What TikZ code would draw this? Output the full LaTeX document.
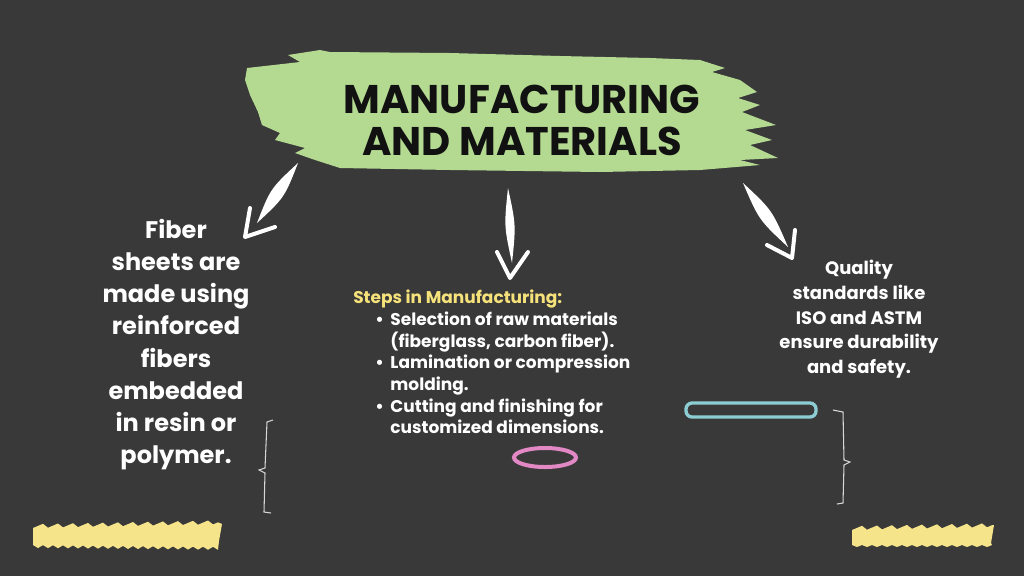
\documentclass[tikz,border=0pt]{standalone}
\usepackage{fontspec}
\setmainfont{Poppins}
\usetikzlibrary{calc}
\definecolor{board}{RGB}{57,57,57}
\definecolor{brushgreen}{RGB}{180,217,145}
\definecolor{titleink}{RGB}{17,17,17}
\definecolor{chalkyellow}{RGB}{245,228,138}
\definecolor{headyellow}{RGB}{246,226,122}
\definecolor{chalkblue}{RGB}{140,205,212}
\definecolor{chalkpink}{RGB}{226,136,196}
\definecolor{chalkgray}{RGB}{215,215,215}
\tikzset{
  chalktext/.style={text=white, inner sep=0pt, font=\bfseries},
  shaft/.style={fill=white},
  arrowhead/.style={draw=white, line width=3pt, line cap=round, line join=round},
  bracketline/.style={draw=chalkgray, line width=0.8pt},
}
\begin{document}
\begin{tikzpicture}[x=0.75pt,y=-0.75pt]
\fill[board] (0,0) rectangle (1024,576);
\useasboundingbox (0,0) rectangle (1024,576);

% green brush stroke behind the title
\fill[brushgreen] (247,68) -- (300,62) -- (288,55) -- (320,50) -- (330,52) -- (450,53) -- (560,56) -- (650,58)
  -- (700,60) -- (725,68) -- (712,72) -- (740,80) -- (757,92) -- (738,98) -- (760,105) -- (742,112)
  -- (776,125) -- (745,130) -- (772,140) -- (750,145) -- (778,158) -- (740,160) -- (760,165)
  -- (700,170) -- (600,172) -- (450,170) -- (340,168) -- (315,160) -- (295,153) -- (305,148)
  -- (275,140) -- (280,133) -- (262,125) -- (258,112) -- (250,95) -- (245,80) -- cycle;

\node[anchor=north, align=center, inner sep=0pt, text=titleink,
      font=\fontsize{30}{31.5}\selectfont\bfseries] (title) at (522,85)
      {MANUFACTURING\\AND MATERIALS};

% left arrow
\coordinate (lt) at (298,163); \coordinate (le) at (257,223);
\fill[shaft] (lt) .. controls (284.5,197.5) .. (le) .. controls (270.5,188.5) .. (lt);
\coordinate (lh) at (245,237);
\draw[arrowhead] (250,208) -- (lh) -- (275,227);

% middle arrow
\coordinate (mt) at (508,188); \coordinate (me) at (512,263);
\fill[shaft] (mt) .. controls (516,225) .. (me) .. controls (504,226) .. (mt);
\coordinate (mh) at (510,278);
\draw[arrowhead] (497,252) -- (mh) -- (528,252);

% right arrow
\coordinate (rt) at (743,183); \coordinate (re) at (788,247);
\fill[shaft] (rt) .. controls (772,210) .. (re) .. controls (759,220) .. (rt);
\coordinate (rh) at (792,258);
\draw[arrowhead] (767,245) -- (rh) -- (795,230);

% left text
\node[chalktext, anchor=north, align=center, font=\fontsize{18}{24.1}\selectfont\bfseries] (lefttext) at (176,219)
  {Fiber\\sheets are\\made using\\reinforced\\fibers\\embedded\\in resin or\\polymer.};

% middle text
\node[chalktext, anchor=north west, font=\fontsize{12.75}{16.25}\selectfont\bfseries] (midtext) at (353,288)
  {\begin{tabular}{@{\hspace{16.5pt}}l@{\hspace{5pt}}l@{}}
   \multicolumn{2}{@{}l@{}}{\color{headyellow}Steps in Manufacturing:}\\
   • & Selection of raw materials\\
     & (fiberglass, carbon fiber).\\
   • & Lamination or compression\\
     & molding.\\
   • & Cutting and finishing for\\
     & customized dimensions.
   \end{tabular}};

% right text
\node[chalktext, anchor=north, align=center, font=\fontsize{13.5}{18.56}\selectfont\bfseries] (righttext) at (859,260)
  {Quality\\standards like\\ISO and ASTM\\ensure durability\\and safety.};

% decorations
\draw[chalkblue, line width=2.5pt, rounded corners=4.5pt] (686,403) rectangle (816,417);
\draw[chalkpink, line width=3pt] (545,457.5) ellipse [x radius=31, y radius=9.5];

\draw[bracketline] (273,420) -- (267,422) -- (265,468) -- (259,470) -- (265,473) -- (264,512) -- (271,513);
\draw[bracketline] (833,410) -- (843,412) -- (844,460) -- (850,462) -- (844,465) -- (843,503) -- (837,504);

\fill[chalkyellow] (33,532) \foreach \i in {0,...,37} {-- ({33+5*\i},{528-0.1*\i-mod(\i,3)*2})}
   -- (222,524) -- (219,541)
   \foreach \i in {37,...,0} {-- ({33+5*\i},{545+0.05*\i+mod(\i,2)*3})} -- cycle;
\fill[chalkyellow] (852,534) \foreach \i in {0,...,28} {-- ({852+5*\i},{530-0.1*\i-mod(\i,3)*2})}
   -- (994,525) -- (991,543)
   \foreach \i in {28,...,0} {-- ({852+5*\i},{545+mod(\i,2)*2})} -- cycle;
\end{tikzpicture}
\end{document}
